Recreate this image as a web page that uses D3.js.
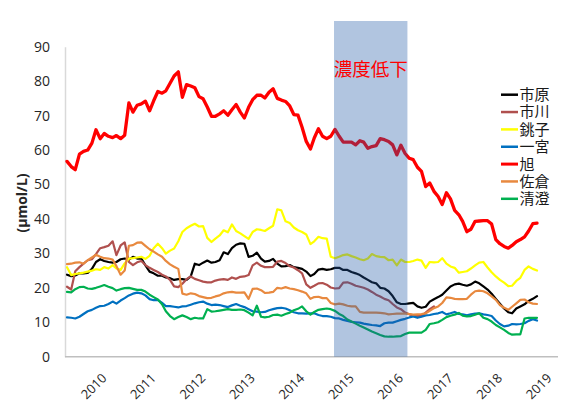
<!DOCTYPE html>
<html>
<head>
<meta charset="utf-8">
<script src="https://cdn.jsdelivr.net/npm/d3@7"></script>
<style>
body { margin: 0; background: #fff; }
</style>
</head>
<body>
<div id="chart"></div>
<script>
// monthly values, Mar 2009 - Sep 2018
var months = d3.timeMonths(new Date(2009, 2, 1), new Date(2018, 9, 1));
var years = ["2010", "2011", "2012", "2013", "2014", "2015", "2016", "2017", "2018", "2019"];
var yTicks = [0, 10, 20, 30, 40, 50, 60, 70, 80, 90];
var band = [new Date(2014, 6, 25), new Date(2016, 0, 18)];
var bandLabel = "濃度低下";
var names = ["市原", "市川", "銚子", "一宮", "旭", "佐倉", "清澄"];
var colors = ["#000000", "#b0504e", "#ffff00", "#0070c0", "#ff0000", "#e8893f", "#00b050"];

var ichihara = [23.8, 23.4, 23.6, 24.2, 24.2, 24.3, 25.5, 27.5, 28.3, 27.8,
    27.5, 27.3, 27.5, 28.3, 28.5, 28.2, 29, 28.5, 28.5, 26.5,
    24.7, 24.2, 23.5, 23.5, 23, 22.8, 22.3, 22.5, 22.5, 22.3,
    23.3, 27, 26.6, 27.3, 27.9, 27.3, 27.5, 28, 30.3, 29.8,
    31.5, 32.5, 32.9, 32.8, 29, 29.3, 30.2, 28.5, 27.6, 27.8,
    28.4, 27, 26.2, 26.3, 26.6, 26, 25.8, 25.5, 24.7, 23.4,
    24, 25.3, 25.5, 25.2, 25.4, 25.8, 25.8, 25.2, 25.2, 24.6,
    24.2, 23.7, 23, 22.3, 21.6, 21.3, 20, 19.8, 19, 17.6,
    15.8, 15.3, 15.3, 15.5, 15.6, 14.6, 14.2, 14.5, 16, 16.7,
    17.3, 18, 19.2, 20.4, 21, 21.2, 20.9, 20.6, 21, 21.8,
    21.3, 20.4, 19.5, 18.3, 16.8, 15.4, 14, 12.9, 12.6, 14,
    14.6, 15.2, 16.2, 16.8, 17.6];
var ichikawa = [20.3, 19.5, 24.8, 26, 27, 28, 28.3, 29.8, 31.5, 31.8,
    32.2, 33.5, 29.5, 32.3, 33.2, 27.5, 26.6, 27.4, 27.8, 26.6,
    25.8, 25.2, 24.6, 23.8, 23.3, 22.3, 20.4, 20.2, 21.2, 22.5,
    23.3, 22.6, 22.2, 21.8, 21.6, 21.6, 22.1, 22.4, 22.5, 22.3,
    23, 22.6, 23.2, 23.3, 23.7, 26.5, 27.3, 26.4, 26, 26,
    26.1, 27.6, 27.8, 27.2, 26.3, 25.9, 25.1, 24.2, 21, 20,
    20.6, 21.3, 21.4, 20.9, 20.1, 19.8, 19.9, 21.5, 21.6, 21.2,
    20.6, 20.3, 20, 19.5, 18.8, 18, 17.5, 16.8, 16.4, 15.3,
    14.3, 13.8, 12.8, 12.3, 12, 11.8, 11.8, 12.8, 13.8, 14.6,
    null, null, null, null, null, null, null, null, null, null,
    null, null, null, null, null, null, null, null, null, null,
    null, null, null, null, null];
var choshi = [26, 23.7, 24, 24.2, 24.4, 24.7, 25, 25.4, 25.2, 26,
    25.6, 26.6, 25.6, 25.2, 27.1, 28.5, 28.6, 28.8, 29, 28.4,
    29.3, 31.5, 32.8, 31.5, 29.9, 30.8, 31.4, 33.5, 36.2, 37.3,
    38, 38.6, 37.8, 37.9, 34.5, 33.3, 34.3, 35.2, 36.7, 36.1,
    38.4, 36.5, 35.8, 35, 34.2, 36.2, 37, 36.8, 36.5, 37.3,
    38, 42.8, 42.5, 39.3, 38.8, 37.5, 36.7, 36.2, 35.5, 32.7,
    33.5, 34.8, 34.4, 34.3, 29, 28.6, 29, 29.5, 29.7, 29.2,
    28.8, 28.3, 28, 28.5, 29.8, 29.2, 29, 28.9, 28, 28.2,
    26.5, 28.2, 27.5, 27.5, 27.8, 28.2, 27.9, 25.8, 27.5, 27.4,
    27.5, 28.6, 27, 26.2, 25.8, 24.4, 24.6, 24.8, 25.6, 26.5,
    27.3, 27.5, 25.9, 24.5, 23.3, 22.3, 21.5, 20.5, 20.6, 22,
    22.9, 25.2, 26.2, 25.5, 25];
var ichinomiya = [11.4, 11.3, 11.1, 11.6, 12.4, 13.2, 13.6, 14.2, 14.7, 14.8,
    15.3, 16, 15.4, 16.3, 17, 17.8, 18.3, 18.6, 18.4, 17.8,
    16.7, 16.4, 16.5, 15.6, 14.7, 14.7, 14.5, 14.3, 14.6, 14.7,
    15.1, 15.5, 15.8, 16, 15.4, 15, 15.1, 15, 14.7, 14.4,
    14.9, 15.3, 14.8, 14.4, 13.8, 13.2, 13.1, 12.9, 13, 13.5,
    13.8, 14.1, 14.2, 14, 13.5, 12.9, 12.6, 12.6, 12.5, 12.6,
    12.6, 12.1, 11.8, 11.8, 11.6, 11.2, 11.1, 10.7, 10.4, 10.1,
    10, 9.9, 9.6, 9.4, 9.2, 9.1, 8.9, 9.7, 9.9, 9.9,
    10.3, 10.7, 11, 11.4, 11.7, 11.3, 11.6, 12, 12.1, 12.4,
    12.6, 13, 12.3, 12.6, 13, 12.4, 12.3, 12, 12.3, 12.5,
    12.6, 12.3, 12.1, 11.8, 10.5, 9.5, 8.8, 9, 9.5, 9.4,
    9.5, 9.7, 10.4, 10.9, 10.5];
var asahi = [56.7, 55.2, 54.3, 58.8, 59.6, 60, 62, 65.9, 63.3, 64.8,
    64, 63.6, 64.2, 63.3, 64.3, 73.7, 71, 73, 73.4, 74.2,
    71.4, 74.3, 77, 76.5, 77.2, 79.4, 81.5, 82.7, 75.3, 79,
    78.6, 78.1, 75.5, 74.9, 72.5, 69.8, 69.8, 70.5, 71.4, 70.1,
    71.7, 73.2, 71, 69.3, 72.4, 74.6, 75.9, 75.9, 75.1, 76.8,
    77.8, 75, 74.5, 74.1, 72.8, 70.3, 70.1, 66.6, 62.5, 60.3,
    63.5, 66.2, 64, 63.3, 64, 66, 64, 62.3, 62.3, 62.3,
    61.5, 62.7, 62.3, 60.5, 61, 61.3, 63.3, 63, 62.5, 61.5,
    58.6, 61.4, 59, 57.6, 57.2, 55, 53.8, 49.4, 50.4, 48,
    46.5, 44.2, 47.6, 45.8, 42.5, 41.2, 39.3, 36.3, 37, 39.3,
    39.4, 39.5, 39.5, 38.5, 34, 32.8, 32, 31.5, 32.3, 33.4,
    34, 34.8, 36.5, 38.6, 38.8];
var sakura = [26.9, 27, 27.3, 27.4, 27, 28, 28.8, 29.6, 29, 28.6,
    28.5, 28.2, 26.3, 23.8, 25, 32.2, 32.4, 33.1, 33.2, 32.2,
    31.2, 30.5, 29.7, 29, 27.8, 26.8, 26.1, 25.5, 18.3, 18,
    18.4, 18.2, 17.6, 17.3, 17, 17.1, 17.5, 17.8, 18.4, 18.7,
    18.8, 18.6, 18.6, 18.7, 16.8, 19.7, 19.8, 19.3, 18.5, 18.6,
    18.8, 20, 19.8, 20.2, 19.8, 19.6, 19.3, 18.9, 18.4, 16.8,
    17.3, 17.4, 17, 17, 15.6, 15.2, 15.4, 15.2, 14.8, 14.6,
    14.6, 13, 12.8, 12.8, 12.8, 12.8, 12.7, 12.6, 12.3, 12.4,
    12.5, 12.5, 12.5, 12.4, 12.2, 12.3, 12.4, 12.6, 13.3, 14.1,
    14.6, 15.6, 17.2, 17.1, 16.8, 16.7, 16.7, 16.8, 18, 19,
    19.2, 19, 18.4, 17.5, 16.5, 15, 14.2, 13.6, 14.5, 15.5,
    16.5, 16.6, 15.8, 15.4, 15.3];
var kiyosumi = [18.8, 18.7, 19.6, 20.2, 20.3, 19.8, 19.7, 20, 20.4, 20.8,
    20.3, 19.9, 19.2, 19.6, 19.9, 20, 19.7, 19.4, 19.4, 18.9,
    18, 17.3, 16.6, 15.2, 13.2, 11.8, 10.9, 11.5, 12, 11.5,
    10.9, 11.3, 11.1, 11.1, 13.8, 13.1, 13.2, 13.4, 13.6, 13.8,
    13.6, 13.6, 13.7, 13.5, 12.8, 12, 14.8, 11.6, 11.4, 11.6,
    12.1, 12.2, 11.9, 12.4, 12.8, 13.5, 13.9, 14.6, 13.2, 12.2,
    13, 13.6, 13.8, 14, 13.8, 13.3, 12.4, 11.8, 10.8, 10.2,
    9.6, 9, 8.5, 7.9, 7.3, 6.8, 6.3, 5.9, 5.8, 5.8,
    5.9, 6, 6.6, 7, 7, 7, 7, 7.8, 9.5, 9.7,
    10, 10.7, 11.5, 11.9, 12.2, 12.7, 11.9, 11.7, 11.8, 12.2,
    12.6, 11.3, 10.9, 10.2, 9.2, 8.5, 7.8, 6.9, 6.4, 6.5,
    6.5, 11.1, 11.3, 11.3, 11.3];

var series = [ichihara, ichikawa, choshi, ichinomiya, asahi, sakura, kiyosumi];

var width = 564,
    height = 403;
var svg = d3.select("#chart")
    .append("svg")
    .attr("width", width)
    .attr("height", height)
    .style("font-family", "'Open Sans', 'Noto Sans', sans-serif");

var x = d3.scaleTime()
    .domain([months[0], months[months.length - 1]])
    .range([67, 537]);
var y = d3.scaleLinear()
    .domain([0, 90])
    .range([356.7, 46.7]);

// y axis
var yAxis = svg.append("g")
    .attr("transform", "translate(65,0)")
    .call(d3.axisLeft(y).tickValues(yTicks).tickSize(0).tickPadding(15));
yAxis.select(".domain").attr("stroke", "#d9d9d9").attr("stroke-width", 1.5);
yAxis.selectAll("text")
    .style("font-size", "14px")
    .style("font-family", "'Open Sans', sans-serif")
    .attr("fill", "#262626");

// x axis line
svg.append("line")
    .attr("x1", 65).attr("x2", 558)
    .attr("y1", y(0)).attr("y2", y(0))
    .attr("stroke", "#bfbfbf")
    .attr("stroke-width", 1.5);

// year labels
svg.selectAll(".year")
    .data(years)
    .enter()
    .append("text")
    .attr("class", "year")
    .attr("transform", function (d) {
        return "translate(" + (x(new Date(+d, 0, 1)) - 1) + ",379) rotate(-45)";
    })
    .attr("text-anchor", "end")
    .style("font-size", "13px")
    .attr("fill", "#262626")
    .text(function (d) { return d; });

// y axis title
svg.append("text")
    .attr("transform", "translate(27,203) rotate(-90)")
    .attr("text-anchor", "middle")
    .style("font-size", "14px")
    .style("font-weight", "bold")
    .attr("fill", "#262626")
    .text("(μmol/L)");

// lines
var line = d3.line()
    .defined(function (d) { return d != null; })
    .x(function (d, i) { return x(months[i]); })
    .y(function (d) { return y(d); });

series.forEach(function (s, k) {
    svg.append("path")
        .datum(s)
        .attr("d", line)
        .attr("fill", "none")
        .attr("stroke", colors[k])
        .attr("stroke-width", k == 4 ? 3.3 : 2.2)
        .attr("stroke-linejoin", "round")
        .attr("stroke-linecap", "round");
});

// shaded period, drawn over the lines
svg.append("rect")
    .attr("x", x(band[0]))
    .attr("y", 21)
    .attr("width", x(band[1]) - x(band[0]))
    .attr("height", y(0) - 21)
    .attr("fill", "#1f5aa6")
    .attr("opacity", 0.35);

svg.append("text")
    .attr("x", (x(band[0]) + x(band[1])) / 2)
    .attr("y", 76)
    .attr("text-anchor", "middle")
    .style("font-family", "'Noto Sans CJK JP', sans-serif")
    .style("font-size", "18.5px")
    .attr("fill", "#ff0000")
    .text(bandLabel);

// legend
var legend = svg.selectAll(".legend")
    .data(names)
    .enter()
    .append("g")
    .attr("class", "legend")
    .attr("transform", function (d, i) {
        return "translate(501," + (94.7 + i * 17.35) + ")";
    });
legend.append("line")
    .attr("x1", 0).attr("x2", 17)
    .attr("stroke", function (d, i) { return colors[i]; })
    .attr("stroke-width", function (d, i) { return i == 4 ? 3 : 2.5; });
legend.append("text")
    .attr("x", 18.5)
    .attr("dy", "0.36em")
    .style("font-family", "'Noto Sans CJK JP', sans-serif")
    .style("font-size", "15px")
    .attr("fill", "#1a1a1a")
    .text(function (d) { return d; });
</script>
</body>
</html>
